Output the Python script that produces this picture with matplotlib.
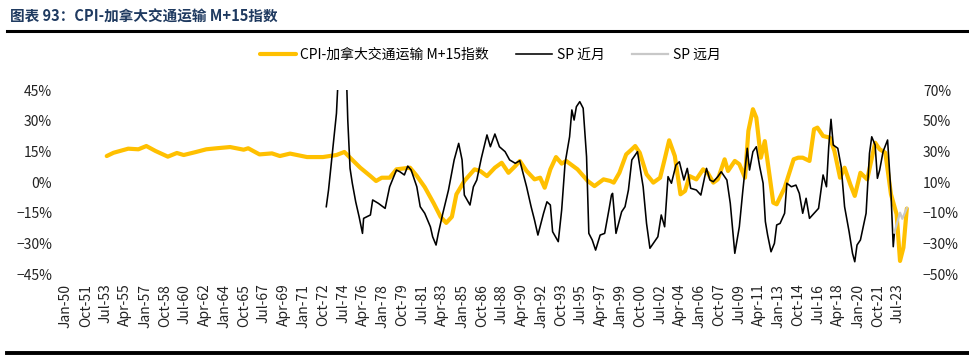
import matplotlib
matplotlib.use("Agg")
import matplotlib.pyplot as plt
import matplotlib.ticker as mtick

plt.rcParams['font.family'] = ['Noto Sans CJK SC', 'DejaVu Sans']

# CPI-加拿大交通运输 M+15 (left axis, %)
cpi_t = [1953.6, 1954.2, 1955.5, 1956.4, 1957.1, 1957.9, 1959.0, 1959.8, 1960.4, 1961.5,
         1962.4, 1963.3, 1964.5, 1965.7, 1966.1, 1967.1, 1968.2, 1968.9, 1969.8, 1971.3,
         1972.7, 1973.9, 1974.6, 1975.1, 1976.0, 1976.9, 1977.4, 1977.9, 1978.6, 1979.2,
         1980.4, 1981.0, 1981.7, 1982.5, 1983.1, 1983.6, 1984.1, 1984.5, 1985.2, 1986.1,
         1986.6, 1987.2, 1987.9, 1988.5, 1989.1, 1989.7, 1990.1, 1990.7, 1991.4, 1991.9,
         1992.3, 1992.8, 1993.3, 1993.8, 1994.2, 1995.2, 1996.1, 1996.7, 1997.5, 1998.1,
         1998.4, 1998.9, 1999.5, 2000.0, 2000.3, 2000.7, 2001.3, 2001.9, 2002.5, 2002.9,
         2003.3, 2003.8, 2004.3, 2004.7, 2005.1, 2005.7, 2006.3, 2006.7, 2007.2, 2007.6,
         2008.2, 2008.5, 2009.1, 2009.5, 2010.0, 2010.3, 2010.7, 2011.0, 2011.4, 2011.75,
         2012.5, 2012.8, 2013.5, 2014.3, 2014.7, 2015.1, 2015.7, 2016.1, 2016.4, 2016.9,
         2017.5, 2017.9, 2018.4, 2018.8, 2019.3, 2019.7, 2020.2, 2020.8, 2021.5, 2021.9,
         2022.4, 2022.9, 2023.4, 2023.7, 2024.0, 2024.3]
cpi_v = [12.7, 14.3, 16.3, 16.0, 17.6, 15.2, 12.4, 14.2, 13.2, 14.7,
         16.0, 16.5, 17.1, 15.8, 16.5, 13.5, 14.0, 12.7, 13.9, 12.2,
         12.2, 13.2, 14.7, 11.9, 7.0, 2.9, 0.5, 2.1, 2.1, 6.2,
         7.0, 3.0, -2.5, -10.5, -17.0, -20.0, -17.0, -6.0, 0.5, 6.2,
         5.4, 2.9, 7.0, 9.4, 4.5, 7.8, 10.3, 5.4, 1.3, 2.1,
         -2.8, 6.2, 12.2, 9.0, 10.3, 6.2, 0.5, -2.0, 1.3, 0.5,
         -0.3, 4.5, 13.5, 16.0, 17.6, 14.3, 3.8, -0.3, 2.1, 11.1,
         20.4, 12.7, -6.0, -4.4, 2.9, 1.3, 6.2, 4.5, -0.3, 1.3,
         11.1, 5.4, 10.3, 8.7, 2.1, 25.0, 35.6, 31.5, 11.9, 20.0,
         -10.1, -10.9, -2.8, 11.1, 11.9, 11.9, 10.3, 25.8, 26.6, 22.5,
         21.7, 15.2, 2.1, 7.0, -1.1, -6.8, 4.5, 1.3, 19.2, 16.0,
         14.3, -6.0, -15.8, -38.6, -32.1, -13.0]

# SP 近月 (right axis, %)
sp_t = [1973.0, 1973.2, 1973.4, 1973.6, 1973.9, 1974.0, 1974.4, 1974.8, 1974.9, 1975.1,
        1975.3, 1975.6, 1975.9, 1976.2, 1976.3, 1976.9, 1977.1, 1977.6, 1978.2, 1978.6,
        1979.2, 1979.5, 1979.9, 1980.2, 1980.5, 1981.0, 1981.3, 1981.7, 1982.2, 1982.4,
        1982.7, 1982.9, 1983.3, 1983.8, 1984.3, 1984.7, 1985.0, 1985.2, 1985.7, 1986.0,
        1986.3, 1986.7, 1987.2, 1987.5, 1987.9, 1988.3, 1988.8, 1989.2, 1989.7, 1990.1,
        1990.7, 1991.1, 1991.4, 1991.7, 1992.2, 1992.5, 1992.8, 1993.0, 1993.5, 1993.8,
        1994.1, 1994.5, 1994.7, 1994.9, 1995.1, 1995.4, 1995.7, 1996.0, 1996.2, 1996.5,
        1996.8, 1997.2, 1997.6, 1998.0, 1998.2, 1998.3, 1998.6, 1999.1, 1999.4, 1999.7,
        2000.0, 2000.3, 2000.5, 2001.0, 2001.3, 2001.6, 2002.0, 2002.3, 2002.6, 2002.9,
        2003.2, 2003.5, 2003.9, 2004.2, 2004.6, 2004.9, 2005.2, 2005.7, 2006.1, 2006.6,
        2006.9, 2007.2, 2007.6, 2007.9, 2008.4, 2008.7, 2009.1, 2009.5, 2009.8, 2010.2,
        2010.4, 2010.7, 2011.0, 2011.3, 2011.6, 2011.8, 2012.0, 2012.3, 2012.6, 2012.8,
        2013.1, 2013.5, 2013.7, 2014.1, 2014.5, 2014.8, 2015.1, 2015.4, 2015.7, 2016.1,
        2016.5, 2016.9, 2017.2, 2017.4, 2017.6, 2017.8, 2018.2, 2018.5, 2018.8, 2019.2,
        2019.5, 2019.7, 2019.9, 2020.2, 2020.7, 2021.0, 2021.2, 2021.5, 2021.7, 2021.9,
        2022.2, 2022.6, 2022.9, 2023.1, 2023.2]
sp_v = [-6.1, 4.8, 18.9, 33.0, 54.8, 70.0, 90.0, 75.0, 50.4, 18.9,
        9.2, -2.9, -12.6, -23.5, -13.7, -11.5, -1.7, -3.9, -7.2, 6.9,
        17.8, 16.7, 14.6, 20.4, 17.8, 6.9, -6.1, -10.4, -19.2, -25.7,
        -31.1, -23.5, -10.4, 4.8, 24.4, 35.2, 24.4, 1.5, -5.0, 6.9,
        11.3, 25.5, 40.7, 33.0, 41.3, 33.0, 29.8, 24.4, 22.2, 23.9,
        6.9, -6.1, -14.8, -24.6, -10.4, -2.9, -5.0, -22.4, -28.9, -8.3,
        22.2, 39.5, 57.0, 50.4, 59.1, 62.4, 58.1, 26.5, -23.5, -27.8,
        -34.4, -24.6, -23.5, -7.2, 1.5, 2.6, -23.5, -9.4, -6.1, 4.8,
        24.4, 27.6, 29.8, 6.9, -17.0, -33.2, -28.9, -25.7, -11.5, -19.2,
        13.5, 9.2, 21.1, 23.2, 11.3, 18.9, 5.9, 4.8, 1.5, 18.9,
        11.3, 10.2, 13.5, 16.7, 11.3, -3.9, -36.5, -19.2, 3.7, 32.0,
        17.8, 29.8, 33.0, 20.0, 9.2, -15.8, -24.6, -35.5, -30.0, -18.0,
        -17.0, -10.4, 9.2, 6.9, 8.0, 2.6, -10.4, -0.6, -13.7, -10.4,
        -7.2, 14.6, 6.9, 33.0, 50.9, 34.1, 32.0, 20.0, -6.1, -22.4,
        -36.5, -42.0, -31.1, -27.8, -10.4, 28.7, 39.5, 34.1, 12.4, 17.8,
        29.8, 37.4, 2.6, -32.2, -23.5]

# SP 远月 (right axis, %)
sp_far_t = [2023.2, 2023.7, 2023.9, 2024.3]
sp_far_v = [-23.0, -10.0, -14.0, -7.0]

x_labels = ['Jan-50', 'Oct-51', 'Jul-53', 'Apr-55', 'Jan-57', 'Oct-58', 'Jul-60', 'Apr-62',
            'Jan-64', 'Oct-65', 'Jul-67', 'Apr-69', 'Jan-71', 'Oct-72', 'Jul-74', 'Apr-76',
            'Jan-78', 'Oct-79', 'Jul-81', 'Apr-83', 'Jan-85', 'Oct-86', 'Jul-88', 'Apr-90',
            'Jan-92', 'Oct-93', 'Jul-95', 'Apr-97', 'Jan-99', 'Oct-00', 'Jul-02', 'Apr-04',
            'Jan-06', 'Oct-07', 'Jul-09', 'Apr-11', 'Jan-13', 'Oct-14', 'Jul-16', 'Apr-18',
            'Jan-20', 'Oct-21', 'Jul-23']
left_ticks = [-45, -30, -15, 0, 15, 30, 45]
right_ticks = [-50, -30, -10, 10, 30, 50, 70]

MONTHS = {'Jan': 0, 'Apr': 3, 'Jul': 6, 'Oct': 9}


def label_pos(lab):
    mon, yy = lab.split('-')
    y = int(yy)
    year = 1900 + y if y >= 50 else 2000 + y
    return year + MONTHS[mon] / 12


fig = plt.figure(figsize=(9.7, 3.58), dpi=100)
ax = fig.add_axes([0.0622, 0.2346, 0.875, 0.514])
ax2 = ax.twinx()

l1, = ax.plot(cpi_t, cpi_v, color='#FFC000', lw=3.0, solid_capstyle='round',
              solid_joinstyle='round', label='CPI-加拿大交通运输 M+15指数')
l2, = ax2.plot(sp_t, sp_v, color='black', lw=1.15, label='SP 近月')
l3, = ax2.plot(sp_far_t, sp_far_v, color='#C8C8C8', lw=1.6, label='SP 远月')

ax.set_xlim(1949.5, 2024.5)
ax.set_ylim(-45, 45)
ax2.set_ylim(-50, 70)
ax.set_yticks(left_ticks)
ax2.set_yticks(right_ticks)
ax.yaxis.set_major_formatter(mtick.PercentFormatter(decimals=0))
ax2.yaxis.set_major_formatter(mtick.PercentFormatter(decimals=0))
ax.set_xticks([label_pos(s) for s in x_labels])
ax.set_xticklabels(x_labels, rotation=90)

for a in (ax, ax2):
    for sp in a.spines.values():
        sp.set_visible(False)
    a.tick_params(length=0, labelsize=10, colors='#222222')
ax.tick_params(axis='y', pad=6)
ax2.tick_params(axis='y', pad=10)
ax.tick_params(axis='x', pad=7)

fig.legend(handles=[l1, l2, l3], loc='center', bbox_to_anchor=(490 / 970, 1 - 55 / 358),
           ncol=3, frameon=False, fontsize=10, handlelength=2.6, handletextpad=0.3,
           columnspacing=2.0)

fig.text(10 / 970, 1 - 17 / 358, '图表 93：CPI-加拿大交通运输 M+15指数', fontsize=10.5,
         fontweight='bold', color='#1F3A60', va='center', ha='left')
fig.add_artist(plt.Line2D([7 / 970, 1], [1 - 31 / 358] * 2, color='black', lw=2.2))
fig.add_artist(plt.Line2D([7 / 970, 1], [1 - 353 / 358] * 2, color='black', lw=2.8))

fig.savefig('out.png', dpi=100)
